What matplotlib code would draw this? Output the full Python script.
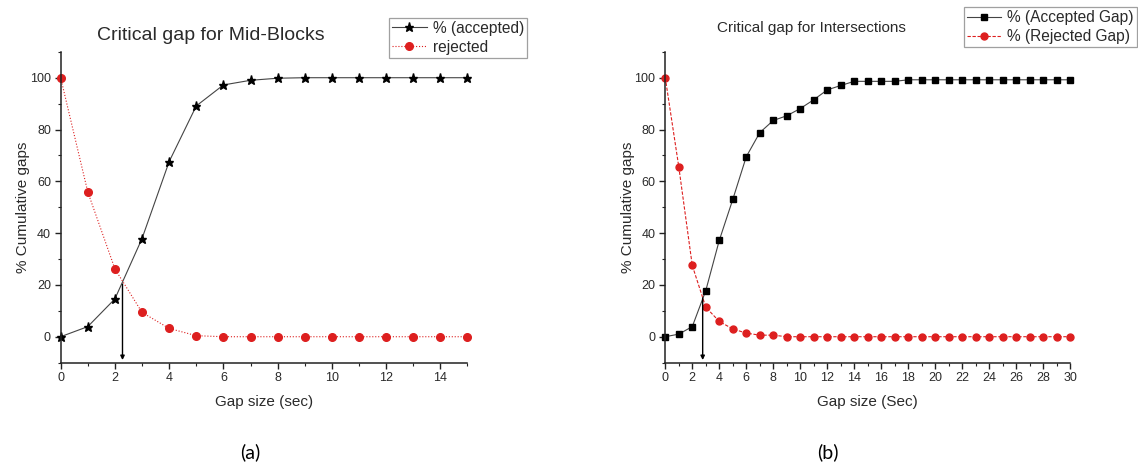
import numpy as np
import matplotlib
matplotlib.use('Agg')
import matplotlib.pyplot as plt
from matplotlib.ticker import MultipleLocator

# data
# (a) mid-blocks
gap_a = list(range(0, 16))
accepted_a = [0, 3.9, 14.6, 37.9, 67.6, 89.1, 97.2, 99.0, 99.8, 100, 100, 100, 100, 100, 100, 100]
rejected_a = [100, 55.9, 26.2, 9.4, 3.2, 0.4, 0, 0, 0, 0, 0, 0, 0, 0, 0, 0]
crit_a = 2.28
crit_a_y = 20.3

# (b) intersections
gap_b = list(range(0, 31))
accepted_b = [0, 1.0, 3.9, 17.8, 37.2, 53.0, 69.5, 78.8, 83.5, 85.3, 88.1, 91.5, 95.3, 97.0,
              98.6, 98.6, 98.6, 98.6, 99.2, 99.2, 99.2, 99.2, 99.2, 99.2, 99.2, 99.2, 99.2,
              99.2, 99.2, 99.2, 99.2]
rejected_b = [100, 65.6, 27.5, 11.4, 5.9, 3.0, 1.4, 0.6, 0.6, 0, 0, 0, 0, 0, 0, 0, 0, 0,
              0, 0, 0, 0, 0, 0, 0, 0, 0, 0, 0, 0, 0]
crit_b = 2.77
crit_b_y = 15.0
arrow_end = -9

plt.rcParams['font.family'] = ['Liberation Sans', 'DejaVu Sans']
txt = '#2a2a2a'
red = '#dd1f1f'

fig = plt.figure(figsize=(11.38, 4.63), dpi=100)
ax1 = fig.add_axes([0.0533, 0.2168, 0.3575, 0.6713])
ax2 = fig.add_axes([0.5846, 0.2168, 0.3559, 0.6713])

# (a)
ax1.plot(gap_a, accepted_a, color='#444444', lw=0.8, marker='*', ms=6.5,
         mfc='black', mec='black', label='% (accepted)')
ax1.plot(gap_a, rejected_a, color=red, lw=0.8, ls=':', marker='o', ms=5.5,
         mfc=red, mec=red, label='rejected')
ax1.annotate('', xy=(crit_a, arrow_end), xytext=(crit_a, crit_a_y),
             arrowprops=dict(arrowstyle='-|>', color='black', lw=1.0,
                             mutation_scale=6, shrinkA=0, shrinkB=0))
ax1.set_xlim(0, 15)
ax1.xaxis.set_major_locator(MultipleLocator(2))
ax1.xaxis.set_minor_locator(MultipleLocator(1))

# (b)
ax2.plot(gap_b, accepted_b, color='#444444', lw=0.8, marker='s', ms=4.3,
         mfc='black', mec='black', label='% (Accepted Gap)')
ax2.plot(gap_b, rejected_b, color=red, lw=0.8, ls='--', dashes=(3, 1.5), marker='o', ms=5,
         mfc=red, mec=red, label='% (Rejected Gap)')
ax2.annotate('', xy=(crit_b, arrow_end), xytext=(crit_b, crit_b_y),
             arrowprops=dict(arrowstyle='-|>', color='black', lw=1.0,
                             mutation_scale=6, shrinkA=0, shrinkB=0))
ax2.set_xlim(0, 30)
ax2.xaxis.set_major_locator(MultipleLocator(2))
ax2.xaxis.set_minor_locator(MultipleLocator(1))

for ax in (ax1, ax2):
    ax.set_ylim(-10, 110)
    ax.yaxis.set_major_locator(MultipleLocator(20))
    ax.yaxis.set_minor_locator(MultipleLocator(10))
    ax.spines['top'].set_visible(False)
    ax.spines['right'].set_visible(False)
    ax.spines['left'].set_linewidth(1.1)
    ax.spines['bottom'].set_linewidth(1.1)
    ax.spines['left'].set_color('#222222')
    ax.spines['bottom'].set_color('#222222')
    ax.tick_params(which='major', direction='out', length=4, width=1.0,
                   labelsize=9, colors='#222222', labelcolor=txt, pad=3)
    ax.tick_params(which='minor', direction='out', length=2.5, width=0.8, colors='#222222')
    ax.set_ylabel('% Cumulative gaps', fontsize=11, color=txt, labelpad=0)
    for ln in ax.lines:
        ln.set_clip_on(False)

ax1.set_xlabel('Gap size (sec)', fontsize=11, color=txt, labelpad=8)
ax2.set_xlabel('Gap size (Sec)', fontsize=11, color=txt, labelpad=8)

fig.text(0.1854, 0.924, 'Critical gap for Mid-Blocks', fontsize=14, color=txt,
         ha='center', va='center')
fig.text(0.7127, 0.94, 'Critical gap for Intersections', fontsize=11, color=txt,
         ha='center', va='center')

leg1 = ax1.legend(loc='upper left', bbox_to_anchor=(0.342, 0.962), bbox_transform=fig.transFigure,
                  fontsize=11.2, frameon=True, fancybox=False, borderaxespad=0,
                  handlelength=2.2, handletextpad=0.4, borderpad=0.2, labelspacing=0.25)
leg2 = ax2.legend(loc='upper left', bbox_to_anchor=(0.847, 0.985), bbox_transform=fig.transFigure,
                  fontsize=11.2, frameon=True, fancybox=False, borderaxespad=0,
                  handlelength=2.2, handletextpad=0.4, borderpad=0.2, labelspacing=0.25)
for leg in (leg1, leg2):
    leg.get_frame().set_edgecolor('#888888')
    leg.get_frame().set_linewidth(0.9)
    for t in leg.get_texts():
        t.set_color(txt)

fig.text(250 / 1138, 1 - 452 / 463, '(a)', fontsize=14, family=['Lato', 'DejaVu Sans'],
         ha='center', va='center', color='black')
fig.text(828 / 1138, 1 - 452 / 463, '(b)', fontsize=14, family=['Lato', 'DejaVu Sans'],
         ha='center', va='center', color='black')

fig.savefig('out.png', dpi=100)
